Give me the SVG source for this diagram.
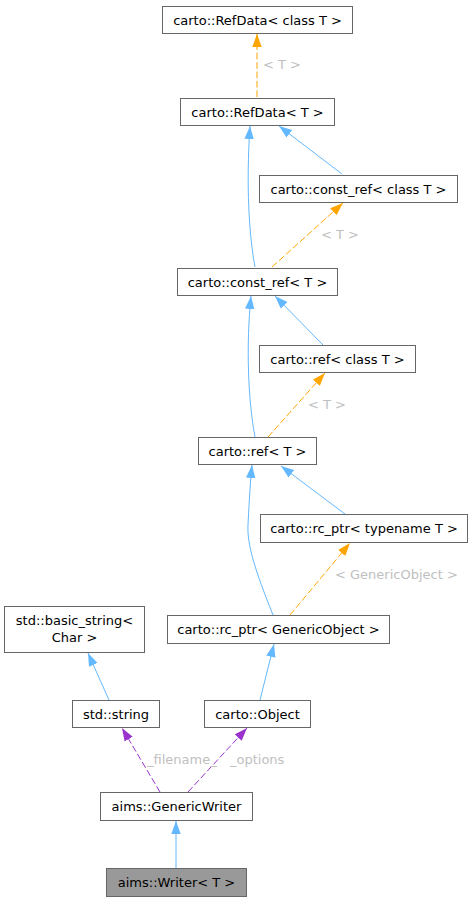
<svg xmlns="http://www.w3.org/2000/svg" width="473" height="901" viewBox="0 0 473 901">
<style>
.n rect{fill:#ffffff;stroke:#666666;stroke-width:1}
.n text{font-family:"DejaVu Sans",sans-serif;font-size:13px;fill:#000000;text-anchor:middle}
.e path{fill:none;stroke-width:1}
.b{stroke:#63b8ff}
.o{stroke:#ffa500;stroke-dasharray:6.7,2.7}
.p{stroke:#9a32cd;stroke-dasharray:6.7,2.7}
.lbl{font-family:"DejaVu Sans",sans-serif;font-size:13px;fill:#c0c0c0}
</style>
<defs>
<marker id="ab" markerUnits="userSpaceOnUse" markerWidth="13" markerHeight="10" viewBox="0 0 13 9.4" refX="13" refY="4.7" orient="auto"><path d="M0,0 L13,4.7 L0,9.4 z" fill="#63b8ff"/></marker>
<marker id="ao" markerUnits="userSpaceOnUse" markerWidth="13" markerHeight="10" viewBox="0 0 13 9.4" refX="13" refY="4.7" orient="auto"><path d="M0,0 L13,4.7 L0,9.4 z" fill="#ffa500"/></marker>
<marker id="ap" markerUnits="userSpaceOnUse" markerWidth="13" markerHeight="10" viewBox="0 0 13 9.4" refX="13" refY="4.7" orient="auto"><path d="M0,0 L13,4.7 L0,9.4 z" fill="#9a32cd"/></marker>
</defs>
<g id="edges" class="e">
<path class="o" d="M257,97 L257,34" marker-end="url(#ao)"/>
<path class="b" d="M255,267 C249,235 246,185 250,126" marker-end="url(#ab)"/>
<path class="b" d="M342,174 L279,126" marker-end="url(#ab)"/>
<path class="o" d="M272,267 L343,203" marker-end="url(#ao)"/>
<path class="b" d="M255,437 C248,400 246,345 251,296" marker-end="url(#ab)"/>
<path class="b" d="M323,345 L275,296" marker-end="url(#ab)"/>
<path class="o" d="M268,437 L325,373" marker-end="url(#ao)"/>
<path class="b" d="M273,615 C255,570 247,545 248,525 C249,505 250,485 252,465" marker-end="url(#ab)"/>
<path class="b" d="M345,514 L281,466" marker-end="url(#ab)"/>
<path class="o" d="M290,615 L350,543" marker-end="url(#ao)"/>
<path class="b" d="M260,700 L274,644" marker-end="url(#ab)"/>
<path class="b" d="M109,700 L88,653" marker-end="url(#ab)"/>
<path class="p" d="M160,792 L122,728" marker-end="url(#ap)"/>
<path class="p" d="M188,792 L247,728" marker-end="url(#ap)"/>
<path class="b" d="M176,868 L176,821" marker-end="url(#ab)"/>
<text class="lbl" x="263" y="69">&lt; T &gt;</text>
<text class="lbl" x="321" y="239">&lt; T &gt;</text>
<text class="lbl" x="308" y="409">&lt; T &gt;</text>
<text class="lbl" x="335" y="579">&lt; GenericObject &gt;</text>
<text class="lbl" x="147" y="764">_filename_</text>
<text class="lbl" x="230" y="764">_options</text>
</g>
<g id="n_refdata_class" class="n"><rect x="162.5" y="6.5" width="190" height="27"/><text x="257.5" y="24.5">carto::RefData&lt; class T &gt;</text></g>
<g id="n_refdata" class="n"><rect x="180.5" y="98.5" width="154" height="27"/><text x="257.5" y="116.5">carto::RefData&lt; T &gt;</text></g>
<g id="n_constref_class" class="n"><rect x="259.5" y="175.5" width="198" height="27"/><text x="358.5" y="193.5">carto::const_ref&lt; class T &gt;</text></g>
<g id="n_constref" class="n"><rect x="177.5" y="268.5" width="160" height="27"/><text x="257.5" y="286.5">carto::const_ref&lt; T &gt;</text></g>
<g id="n_ref_class" class="n"><rect x="259.5" y="345.5" width="156" height="27"/><text x="337.5" y="363.5">carto::ref&lt; class T &gt;</text></g>
<g id="n_ref" class="n"><rect x="198.5" y="437.5" width="118" height="27"/><text x="257.5" y="455.5">carto::ref&lt; T &gt;</text></g>
<g id="n_rcptr_typename" class="n"><rect x="260.5" y="514.5" width="207" height="28"/><text x="364" y="533">carto::rc_ptr&lt; typename T &gt;</text></g>
<g id="n_rcptr_go" class="n"><rect x="167.5" y="615.5" width="222" height="28"/><text x="278.5" y="634">carto::rc_ptr&lt; GenericObject &gt;</text></g>
<g id="n_basic_string" class="n"><rect x="4.5" y="606.5" width="140" height="46"/><text x="74.5" y="625">std::basic_string&lt;</text><text x="74.5" y="642">Char &gt;</text></g>
<g id="n_string" class="n"><rect x="72.5" y="700.5" width="87" height="27"/><text x="116" y="718.5">std::string</text></g>
<g id="n_object" class="n"><rect x="204.5" y="700.5" width="106" height="27"/><text x="257.5" y="718.5">carto::Object</text></g>
<g id="n_genericwriter" class="n"><rect x="100.5" y="792.5" width="152" height="28"/><text x="176.5" y="811">aims::GenericWriter</text></g>
<g id="n_writer" class="n"><rect x="106.5" y="868.5" width="140" height="28" style="fill:#999999"/><text x="176.5" y="887">aims::Writer&lt; T &gt;</text></g>
</svg>
